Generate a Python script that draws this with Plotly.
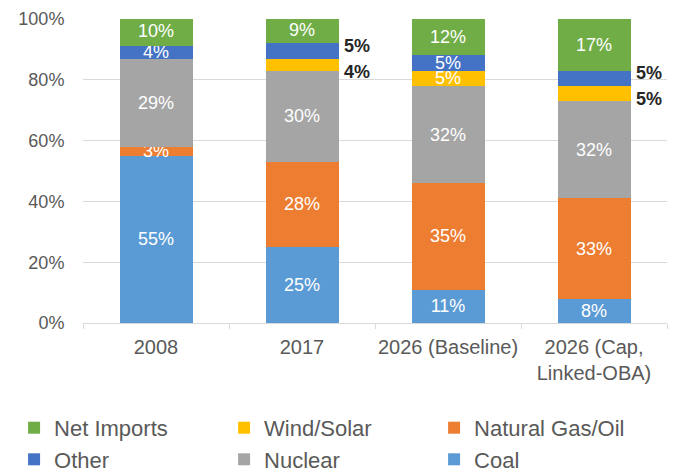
import plotly.graph_objects as go

categories = ["2008", "2017", "2026 (Baseline)", "2026 (Cap,<br>Linked-OBA)"]

coal = [55, 25, 11, 8]
natural_gas_oil = [3, 28, 35, 33]
nuclear = [29, 30, 32, 32]
wind_solar = [0, 4, 5, 5]
other = [4, 5, 5, 5]
net_imports = [10, 9, 12, 17]

series_names = ["Coal", "Natural Gas/Oil", "Nuclear", "Wind/Solar", "Other", "Net Imports"]
series_values = [coal, natural_gas_oil, nuclear, wind_solar, other, net_imports]
series_colors = ["#5B9BD5", "#ED7D31", "#A5A5A5", "#FFC000", "#4472C4", "#70AD47"]
legend_rank = [6, 3, 5, 2, 4, 1]

# labels drawn beside the bar instead of inside: (series, category index, vertical nudge px)
outside_labels = [("Wind/Solar", 1, -7), ("Other", 1, 5), ("Wind/Solar", 3, -6), ("Other", 3, 5)]
outside_set = {(s, i) for s, i, _ in outside_labels}

FONT = "Liberation Sans, Arial, sans-serif"

fig = go.Figure()
for name, vals, color, rank in zip(series_names, series_values, series_colors, legend_rank):
    texts = []
    for i, v in enumerate(vals):
        if v <= 0 or (name, i) in outside_set:
            texts.append("")
        else:
            texts.append(f"{v}%")
    fig.add_trace(go.Bar(
        x=categories, y=vals, name=name,
        marker=dict(color=color, line=dict(width=0)),
        text=texts, textposition="inside", insidetextanchor="middle",
        textangle=0, constraintext="none",
        insidetextfont=dict(color="white", size=18, family=FONT),
        legendrank=rank, hoverinfo="skip",
    ))

# outside labels (x given as category index)
for name, i, ys in outside_labels:
    idx = series_names.index(name)
    base = sum(series_values[k][i] for k in range(idx))
    center = base + series_values[idx][i] / 2
    fig.add_annotation(
        x=i, y=center, text=f"<b>{series_values[idx][i]}%</b>",
        showarrow=False, xanchor="left", yanchor="middle",
        xshift=40, yshift=ys,
        font=dict(size=18, color="#262626", family=FONT),
    )

fig.update_layout(
    width=670, height=467,
    barmode="stack", bargap=0.5,
    plot_bgcolor="white", paper_bgcolor="white",
    margin=dict(l=75, r=11, t=11, b=152, autoexpand=False),
    font=dict(family=FONT, color="#595959"),
    showlegend=True,
    legend=dict(
        orientation="h", x=-0.118, xanchor="left", y=-0.276, yanchor="top",
        entrywidth=165, entrywidthmode="pixels",
        font=dict(size=22, color="#595959", family=FONT),
        traceorder="normal", itemsizing="constant",
    ),
)
fig.update_yaxes(
    range=[0, 100], tickvals=[0, 20, 40, 60, 80, 100],
    ticktext=["0%", "20%", "40%", "60%", "80%", "100%"],
    showgrid=True, gridcolor="#D9D9D9", gridwidth=1,
    zeroline=False, showline=False,
    ticks="outside", ticklen=14, tickcolor="rgba(0,0,0,0)",
    tickfont=dict(size=18, color="#595959", family=FONT),
    fixedrange=True,
)
fig.update_xaxes(
    type="category", range=[-0.5, 3.5], tickangle=0,
    showline=True, linecolor="#D9D9D9", linewidth=1,
    ticks="outside", tickson="boundaries", ticklen=5, tickcolor="#D9D9D9",
    ticklabelstandoff=6,
    tickfont=dict(size=20, color="#595959", family=FONT),
    showgrid=False, fixedrange=True,
)

fig.write_html("out.html")
